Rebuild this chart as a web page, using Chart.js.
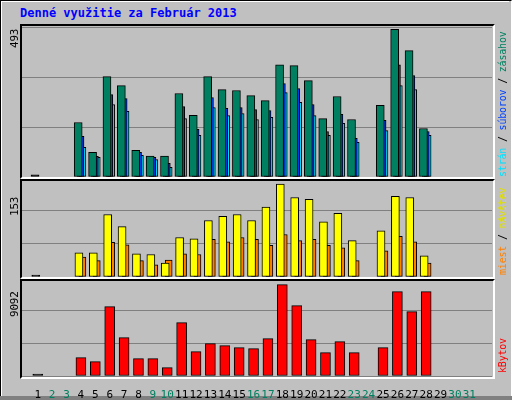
<!DOCTYPE html>
<html><head><meta charset="utf-8">
<script src="https://cdn.jsdelivr.net/npm/chart.js@4/dist/chart.umd.min.js"></script>
<style>
body{margin:0;width:512px;height:400px;background:#c0c0c0;position:relative;overflow:hidden;font-family:"DejaVu Sans Mono",monospace}
#outer{position:absolute;left:0;top:0;width:510px;height:396px;border-top:1px solid #000;border-left:1px solid #000;border-right:1px solid #fff;}
#outer2{position:absolute;left:1px;top:1px;width:507px;height:394px;border-top:1px solid #fff;border-left:1px solid #fff;}
#shadow{position:absolute;left:0;top:396px;width:512px;height:4px;background:#808080}
.cv{position:absolute;left:22px;width:470px}
.frame{position:absolute;left:20px;width:471px;border-top:2px solid #000;border-left:2px solid #000;border-right:2px solid #fff;border-bottom:2px solid #fff;pointer-events:none}
.rl{position:absolute;transform-origin:0 0;transform:rotate(-90deg);white-space:nowrap;font-size:10px;letter-spacing:-0.2px}
#title{position:absolute;left:20px;top:6px;color:#0000ff;font-weight:bold;font-size:12px}
</style></head><body>
<div id="outer"></div><div id="outer2"></div><div id="shadow"></div>
<div id="title">Denné využitie za Február 2013</div>
<div class="cv" style="top:27px;height:150px"><canvas id="c1"></canvas></div>
<div class="cv" style="top:177px;height:100px"><canvas id="c2"></canvas></div>
<div class="cv" style="top:277px;height:121px"><canvas id="c3"></canvas></div>
<div class="frame" style="top:24px;height:151px"></div>
<div class="frame" style="top:179px;height:96px"></div>
<div class="frame" style="top:279px;height:96px"></div>
<div class="rl" style="left:8px;top:48px;font-size:11px">493</div>
<div class="rl" style="left:8px;top:216px;font-size:11px">153</div>
<div class="rl" style="left:8px;top:317px;font-size:11px">9092</div>
<div class="rl" style="left:497px;top:177px"><span style="color:#00e0ff">strán</span> / <span style="color:#0040ff">súborov</span> / <span style="color:#008060">zásahov</span></div>
<div class="rl" style="left:497px;top:275px"><span style="color:#ff8000">miest</span> / <span style="color:#e0e000">návštev</span></div>
<div class="rl" style="left:497px;top:373px"><span style="color:#ff0000">kBytov</span></div>
<script>
const days=[1,2,3,4,5,6,7,8,9,10,11,12,13,14,15,16,17,18,19,20,21,22,23,24,25,26,27,28,29,30,31];
const weekend=[2,3,9,10,16,17,23,24,30,31];
const hits =[7,0,0,182,82,335,305,89,70,70,279,206,335,292,289,272,255,375,372,322,195,269,192,0,239,493,422,162,0,0,0];
const files=[0,0,0,136,69,275,262,82,66,46,235,159,265,229,232,225,222,312,295,242,152,209,129,0,189,375,339,152,0,0,0];
const pages=[0,0,0,99,66,242,219,72,58,32,195,139,232,205,212,192,199,282,249,205,139,179,116,0,155,305,292,139,0,0,0];
const visits=[3,0,0,40,40,103,83,38,37,23,65,63,93,100,103,93,115,153,131,128,91,105,60,0,76,133,131,35,0,0,0];
const sites =[0,0,0,33,27,57,53,27,20,28,38,37,62,58,65,62,52,70,60,62,52,48,27,0,43,67,58,23,0,0,0];
const kbytes=[200,0,0,1830,1430,6900,3820,1730,1730,835,5310,2430,3220,3020,2830,2730,3720,9092,7000,3620,2330,3420,2330,0,2830,8400,6410,8400,0,0,0];

function ds(vals,axis,color,w){
  return {data:days.map((d,i)=>({x:d,y:vals[i]})),xAxisID:axis,
    backgroundColor:days.map(d=>d===1?'#000':color),borderColor:days.map((d,i)=>vals[i]>0?'#000':'rgba(0,0,0,0)'),
    borderWidth:1,barThickness:w,grouped:false,borderSkipped:false};
}
function xa(shift,show){
  return {type:'linear',min:0.33-shift,max:31.95-shift,display:show,
    grid:{display:false},border:{display:false},
    afterBuildTicks:s=>{s.ticks=days.map(d=>({value:d}));},
    afterFit:s=>{s.height=show?22:0;},
    ticks:{autoSkip:false,maxRotation:0,padding:5,font:{family:'DejaVu Sans Mono',size:11},
      color:c=>weekend.includes(c.tick.value)?'#008060':'#000'}};
}
function mk(id,datasets,axes,step){
  const scales={y:{min:0,max:step*3,display:true,afterFit:s=>{s.width=0;},
      ticks:{display:false,stepSize:step},
      grid:{color:'#808080',lineWidth:1,drawTicks:false},border:{display:false}}};
  Object.assign(scales,axes);
  return new Chart(document.getElementById(id),{type:'bar',data:{datasets},
    options:{responsive:true,maintainAspectRatio:false,animation:false,layout:{padding:0},
      plugins:{legend:{display:false},tooltip:{enabled:false}},scales}});
}
mk('c1',[ds(hits,'xa','#008060',8),ds(files,'xb','#0040ff',7),ds(pages,'xc','#00e0ff',7)],
  {xa:xa(-0.29,false),xb:xa(-0.13,false),xc:xa(0.0,false)},167);
mk('c2',[ds(visits,'xa','#ffff00',8),ds(sites,'xb','#ff8000',7)],
  {xa:xa(-0.24,false),xb:xa(0.0,false)},54.9);
mk('c3',[ds(kbytes,'x','#ff0000',10)],{x:xa(-0.1,true)},3283);
</script></body></html>
